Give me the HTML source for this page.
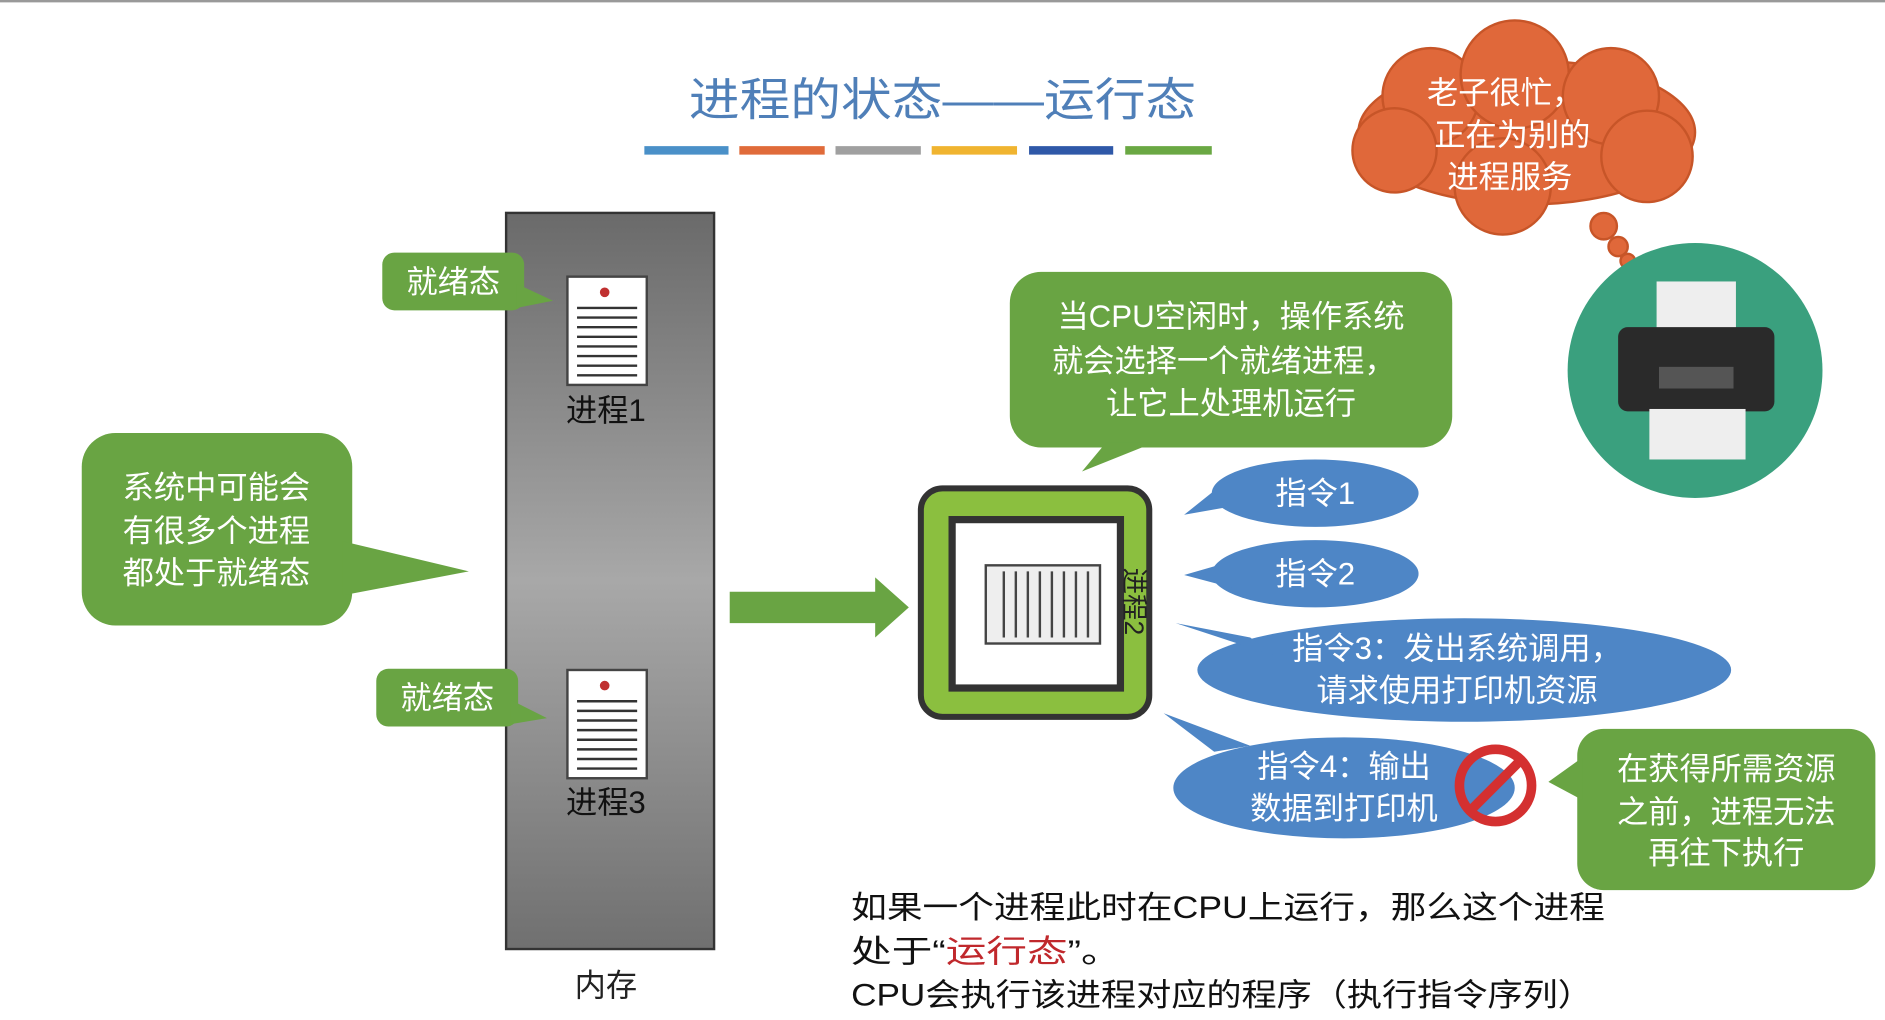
<!DOCTYPE html>
<html><head><meta charset="utf-8"><style>
html,body{margin:0;padding:0;background:#fff;width:1885px;height:1020px;overflow:hidden}
svg text{font-family:"Liberation Sans","Noto Sans CJK SC",sans-serif}
</style></head><body>
<svg width="1885" height="1020" viewBox="0 0 1568 848" preserveAspectRatio="none" xmlns="http://www.w3.org/2000/svg">
<rect width="1568" height="848" fill="#fff"/>
<line x1="0" y1="1" x2="1568" y2="1" stroke="#999" stroke-width="2"/>
<text x="573" y="96" font-size="38" fill="#4f7fb8" textLength="422" lengthAdjust="spacingAndGlyphs">进程的状态——运行态</text>
<g stroke-width="7">
<line x1="536" y1="125" x2="606" y2="125" stroke="#4a90c8"/>
<line x1="615" y1="125" x2="686" y2="125" stroke="#e06b3a"/>
<line x1="695" y1="125" x2="766" y2="125" stroke="#a0a0a0"/>
<line x1="775" y1="125" x2="846" y2="125" stroke="#f0b430"/>
<line x1="856" y1="125" x2="926" y2="125" stroke="#2f58a8"/>
<line x1="936" y1="125" x2="1008" y2="125" stroke="#6aa843"/>
</g>
<defs><linearGradient id="mg" x1="0" y1="0" x2="0" y2="1"><stop offset="0" stop-color="#6a6a6a"/><stop offset="0.5" stop-color="#a8a8a8"/><stop offset="1" stop-color="#707070"/></linearGradient></defs>
<rect x="421" y="177" width="173" height="612" fill="url(#mg)" stroke="#333" stroke-width="2"/>
<text x="504" y="828" font-size="26" fill="#222" text-anchor="middle">内存</text>
<g>
<rect x="472" y="230" width="66" height="90" fill="#fff" stroke="#444" stroke-width="2"/>
<circle cx="503" cy="243" r="4" fill="#c03030"/>
<g stroke="#333" stroke-width="2"><line x1="480" y1="256" x2="530" y2="256"/><line x1="480" y1="264" x2="530" y2="264"/><line x1="480" y1="272" x2="530" y2="272"/><line x1="480" y1="280" x2="530" y2="280"/><line x1="480" y1="288" x2="530" y2="288"/><line x1="480" y1="296" x2="530" y2="296"/><line x1="480" y1="304" x2="530" y2="304"/><line x1="480" y1="312" x2="530" y2="312"/></g>
<text x="504" y="350" font-size="26" fill="#111" text-anchor="middle">进程1</text>
</g>
<g>
<rect x="472" y="557" width="66" height="90" fill="#fff" stroke="#444" stroke-width="2"/>
<circle cx="503" cy="570" r="4" fill="#c03030"/>
<g stroke="#333" stroke-width="2"><line x1="480" y1="583" x2="530" y2="583"/><line x1="480" y1="591" x2="530" y2="591"/><line x1="480" y1="599" x2="530" y2="599"/><line x1="480" y1="607" x2="530" y2="607"/><line x1="480" y1="615" x2="530" y2="615"/><line x1="480" y1="623" x2="530" y2="623"/><line x1="480" y1="631" x2="530" y2="631"/><line x1="480" y1="639" x2="530" y2="639"/></g>
<text x="504" y="676" font-size="26" fill="#111" text-anchor="middle">进程3</text>
</g>
<g fill="#69a443">
<rect x="318" y="210" width="118" height="48" rx="10"/><polygon points="430,236 460,250 430,256"/>
<rect x="313" y="556" width="118" height="48" rx="10"/><polygon points="425,582 455,597 425,602"/>
<rect x="68" y="360" width="225" height="160" rx="28"/><polygon points="285,450 390,475 285,495"/>
<rect x="840" y="226" width="368" height="146" rx="26"/><polygon points="920,368 900,392 960,368"/>
<rect x="1312" y="606" width="248" height="134" rx="22"/><polygon points="1316,630 1288,650 1316,665"/>
</g>
<g fill="#fff" font-size="26">
<text x="377" y="243" text-anchor="middle">就绪态</text>
<text x="372" y="589" text-anchor="middle">就绪态</text>
<text x="180" y="414" text-anchor="middle">系统中可能会</text>
<text x="180" y="450" text-anchor="middle">有很多个进程</text>
<text x="180" y="485" text-anchor="middle">都处于就绪态</text>
<text x="1024" y="272" text-anchor="middle">当CPU空闲时，操作系统</text>
<text x="1018" y="309" text-anchor="middle">就会选择一个就绪进程，</text>
<text x="1024" y="344" text-anchor="middle">让它上处理机运行</text>
<text x="1436" y="648" text-anchor="middle">在获得所需资源</text>
<text x="1436" y="684" text-anchor="middle">之前，进程无法</text>
<text x="1436" y="718" text-anchor="middle">再往下执行</text>
</g>
<polygon points="607,492 728,492 728,480 756,505 728,530 728,518 607,518" fill="#69a443"/>
<rect x="766" y="406" width="190" height="190" rx="18" fill="#8bbf3f" stroke="#333" stroke-width="5"/>
<rect x="792" y="432" width="140" height="140" fill="#fff" stroke="#333" stroke-width="6"/>
<rect x="820" y="470" width="95" height="65" fill="#eee" stroke="#444" stroke-width="2"/>
<g stroke="#444" stroke-width="2"><line x1="835" y1="475" x2="835" y2="530"/><line x1="845" y1="475" x2="845" y2="530"/><line x1="855" y1="475" x2="855" y2="530"/><line x1="865" y1="475" x2="865" y2="530"/><line x1="875" y1="475" x2="875" y2="530"/><line x1="885" y1="475" x2="885" y2="530"/><line x1="895" y1="475" x2="895" y2="530"/><line x1="905" y1="475" x2="905" y2="530"/></g>
<text x="936" y="500" font-size="22" fill="#222" transform="rotate(90 936 500)" text-anchor="middle">进程2</text>
<g fill="#4e86c6">
<ellipse cx="1094" cy="410" rx="86" ry="28"/><polygon points="1020,400 985,428 1030,420"/>
<ellipse cx="1094" cy="477" rx="86" ry="28"/><polygon points="1020,468 985,478 1030,490"/>
<ellipse cx="1218" cy="557" rx="222" ry="43"/><polygon points="1040,530 978,518 1060,545"/>
<ellipse cx="1118" cy="655" rx="142" ry="42"/><polygon points="1010,625 968,593 1040,620"/>
</g>
<g fill="#fff" font-size="26" text-anchor="middle">
<text x="1094" y="419">指令1</text>
<text x="1094" y="486">指令2</text>
<text x="1212" y="548">指令3：发出系统调用，</text>
<text x="1212" y="583">请求使用打印机资源</text>
<text x="1118" y="646">指令4：输出</text>
<text x="1118" y="681">数据到打印机</text>
</g>
<circle cx="1244" cy="653" r="30" fill="none" stroke="#d43030" stroke-width="8"/>
<line x1="1224" y1="673" x2="1264" y2="633" stroke="#d43030" stroke-width="8"/>
<g font-size="26" fill="#111">
<text x="708" y="763" textLength="627" lengthAdjust="spacingAndGlyphs">如果一个进程此时在CPU上运行，那么这个进程</text>
<text x="708" y="800" textLength="225" lengthAdjust="spacingAndGlyphs">处于“<tspan fill="#c0282c">运行态</tspan>”。</text>
<text x="708" y="836" textLength="617" lengthAdjust="spacingAndGlyphs">CPU会执行该进程对应的程序（执行指令序列）</text>
</g>
<g fill="#e0683a" stroke="#c75528" stroke-width="2">
<ellipse cx="1270" cy="110" rx="140" ry="60"/>
<circle cx="1190" cy="80" r="40"/><circle cx="1260" cy="62" r="45"/><circle cx="1340" cy="80" r="40"/>
<circle cx="1160" cy="125" r="35"/><circle cx="1370" cy="130" r="38"/><circle cx="1250" cy="155" r="40"/>
<circle cx="1334" cy="188" r="11"/><circle cx="1346" cy="205" r="8"/><circle cx="1354" cy="217" r="6"/>
</g>
<g fill="#fff" font-size="26" text-anchor="middle">
<text x="1252" y="86">老子很忙，</text>
<text x="1258" y="121">正在为别的</text>
<text x="1256" y="156">进程服务</text>
</g>
<circle cx="1410" cy="308" r="106" fill="#3aa07e"/>
<rect x="1378" y="234" width="66" height="40" fill="#eee"/>
<rect x="1346" y="272" width="130" height="70" rx="8" fill="#2a2a2a"/>
<rect x="1380" y="305" width="62" height="18" fill="#555"/>
<rect x="1372" y="340" width="80" height="42" fill="#eee"/>
</svg>
</body></html>
